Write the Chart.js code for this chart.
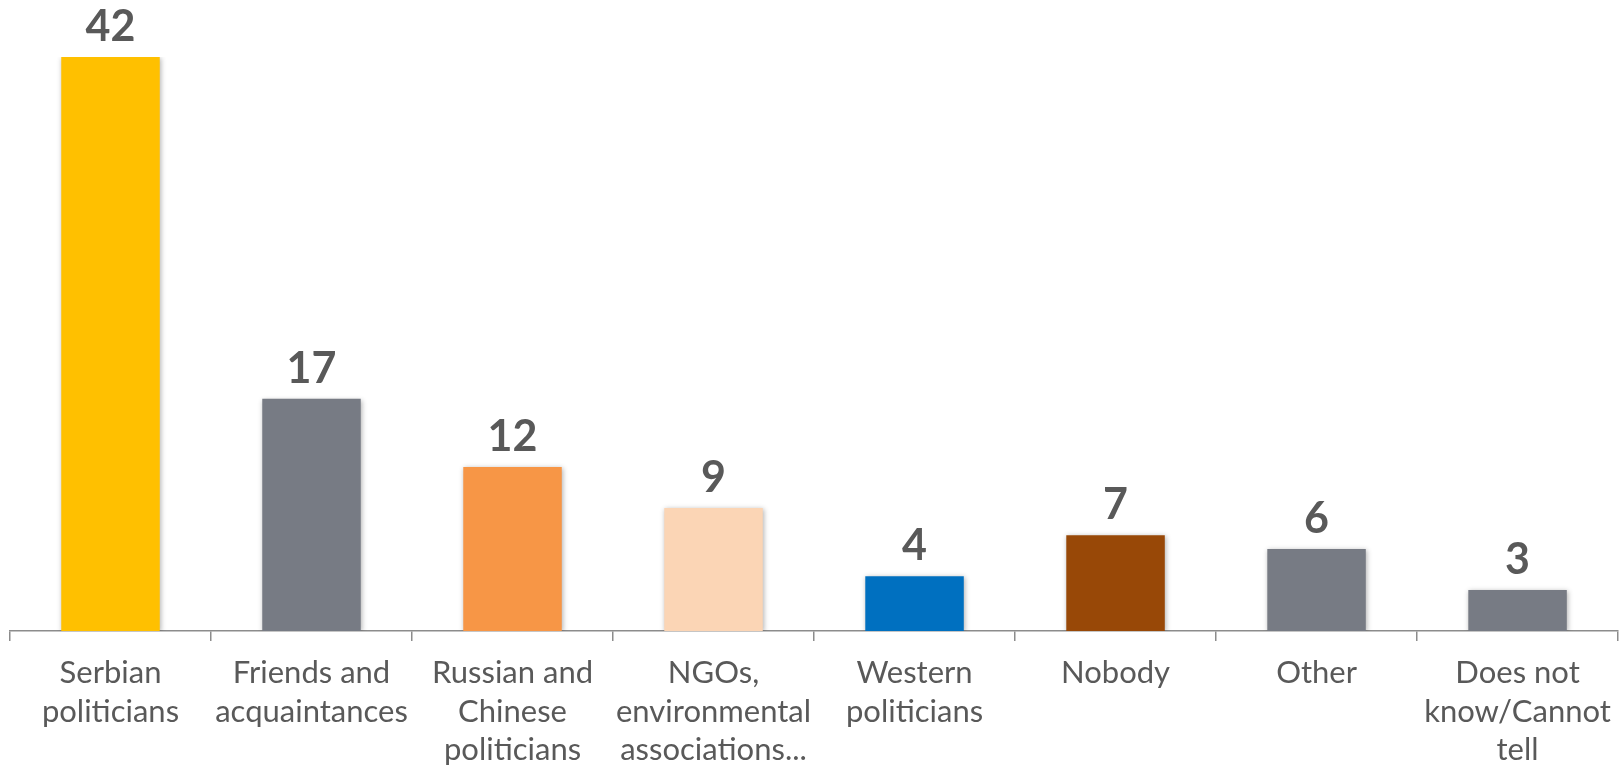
<!DOCTYPE html>
<html>
<head>
<meta charset="utf-8">
<script src="https://cdn.jsdelivr.net/npm/chart.js@4/dist/chart.umd.min.js"></script>
<style>
  html, body { margin: 0; padding: 0; background: #ffffff; }
  #wrap { width: 1624px; height: 765px; position: relative; }
</style>
</head>
<body>
<div id="wrap"><canvas id="c" width="1624" height="765"></canvas></div>
<script>
const categories = [
  ["Serbian", "politicians"],
  ["Friends and", "acquaintances"],
  ["Russian and", "Chinese", "politicians"],
  ["NGOs,", "environmental", "associations..."],
  ["Western", "politicians"],
  ["Nobody"],
  ["Other"],
  ["Does not", "know/Cannot", "tell"]
];
const values = [42, 17, 12, 9, 4, 7, 6, 3];
const barColors = ["#FFC000", "#777B84", "#F79646", "#FBD5B5", "#0070C0", "#984807", "#777B84", "#777B84"];

const shadowPlugin = {
  id: 'barShadow',
  beforeDatasetDraw(chart) {
    const ctx = chart.ctx;
    ctx.save();
    ctx.shadowColor = 'rgba(0,0,0,0.30)';
    ctx.shadowBlur = 5;
    ctx.shadowOffsetX = 1;
    ctx.shadowOffsetY = 1;
  },
  afterDatasetDraw(chart) {
    chart.ctx.restore();
  }
};

const valueLabels = {
  id: 'valueLabels',
  afterDatasetsDraw(chart) {
    const ctx = chart.ctx;
    const meta = chart.getDatasetMeta(0);
    ctx.save();
    ctx.font = 'bold 43px Lato';
    ctx.fillStyle = '#595959';
    ctx.textAlign = 'center';
    ctx.textBaseline = 'alphabetic';
    meta.data.forEach((bar, i) => {
      ctx.fillText(String(values[i]), bar.x, bar.y - 16);
    });
    ctx.restore();
  }
};

new Chart(document.getElementById('c'), {
  type: 'bar',
  data: {
    labels: categories,
    datasets: [{
      data: values,
      backgroundColor: barColors,
      borderWidth: 0,
      barPercentage: 0.49,
      categoryPercentage: 1.0
    }]
  },
  options: {
    responsive: false,
    animation: false,
    layout: { padding: { top: 57, left: 10, right: 1, bottom: 0 } },
    plugins: { legend: { display: false }, tooltip: { enabled: false } },
    scales: {
      y: { display: false, min: 0, max: 42 },
      x: {
        afterFit(scale) { scale.height = 134; },
        grid: { display: true, drawOnChartArea: false, drawTicks: true, tickLength: 10, color: '#8C8C8C', lineWidth: 1.5, offset: true },
        border: { display: true, color: '#8C8C8C', width: 1.5 },
        ticks: {
          autoSkip: false, maxRotation: 0, minRotation: 0,
          color: '#595959',
          padding: 13,
          font: { family: 'Lato', size: 31, lineHeight: 1.24 }
        }
      }
    }
  },
  plugins: [shadowPlugin, valueLabels]
});
</script>
</body>
</html>
